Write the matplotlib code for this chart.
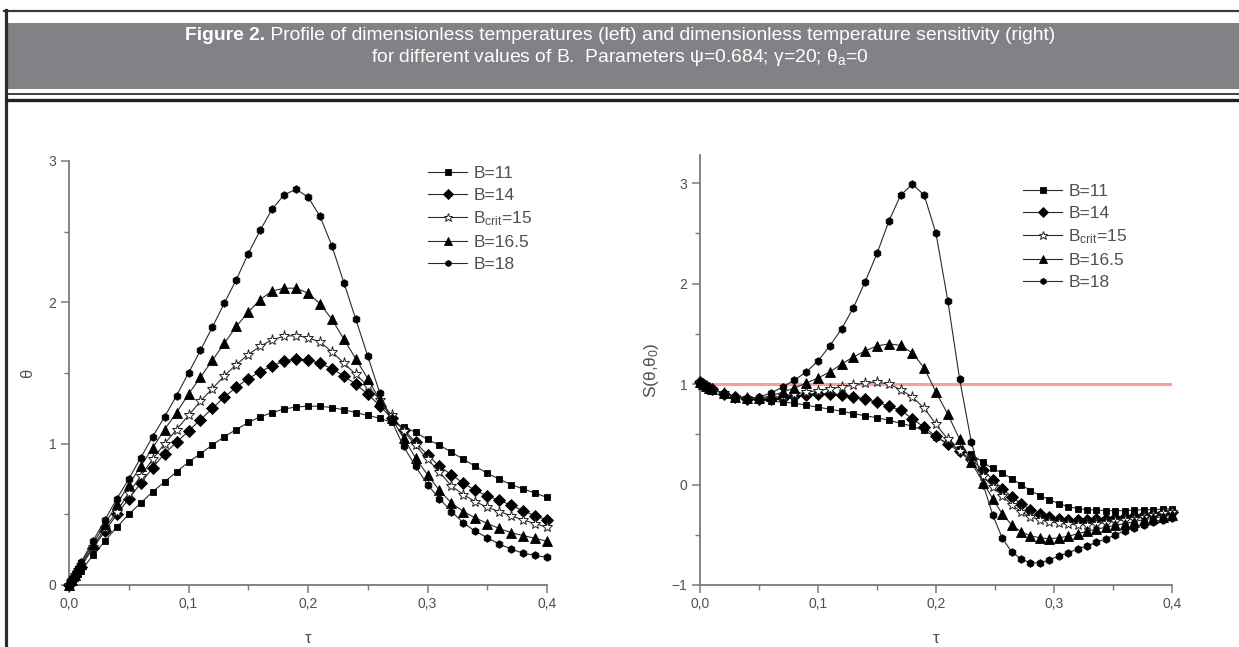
import matplotlib
matplotlib.use("Agg")
import matplotlib.pyplot as plt
from matplotlib.ticker import MultipleLocator, FixedLocator, FixedFormatter
from matplotlib.lines import Line2D
from matplotlib.patches import Rectangle

plt.rcParams['font.family'] = ['Liberation Sans', 'DejaVu Sans']
plt.rcParams['mathtext.fontset'] = 'custom'
plt.rcParams['mathtext.rm'] = 'Liberation Sans'
plt.rcParams['mathtext.it'] = 'Liberation Sans:italic'
plt.rcParams['mathtext.bf'] = 'Liberation Sans:bold'

# ---------------- data ----------------
title_bold = "Figure 2."
title_rest = " Profile of dimensionless temperatures (left) and dimensionless temperature sensitivity (right)"
title_line2 = r"for different values of B.  Parameters ψ=0.684; γ=20; θ$_{\mathregular{a}}$=0"

series_labels = ["B=11", "B=14", r"B$_{\mathregular{crit}}$=15", "B=16.5", "B=18"]

x_ticks = [0.0, 0.1, 0.2, 0.3, 0.4]
x_ticklabels = ["0,0", "0,1", "0,2", "0,3", "0,4"]
left_yticks = [0, 1, 2, 3]
right_yticks = [-1, 0, 1, 2, 3]
ref_level = 1.0

tau_left = [0, 0.0025, 0.005, 0.0075, 0.01, 0.02, 0.03, 0.04, 0.05, 0.06, 0.07, 0.08, 0.09, 0.10,
            0.11, 0.12, 0.13, 0.14, 0.15, 0.16, 0.17, 0.18, 0.19, 0.20, 0.21, 0.22, 0.23, 0.24,
            0.25, 0.26, 0.27, 0.28, 0.29, 0.30, 0.31, 0.32, 0.33, 0.34, 0.35, 0.36, 0.37, 0.38,
            0.39, 0.40]

theta_B11 = [0, 0.026, 0.052, 0.078, 0.10, 0.21, 0.31, 0.41, 0.50, 0.58, 0.66, 0.73, 0.80, 0.87,
             0.93, 0.99, 1.05, 1.10, 1.15, 1.19, 1.22, 1.245, 1.26, 1.265, 1.265, 1.255, 1.24, 1.22,
             1.20, 1.18, 1.15, 1.12, 1.08, 1.03, 0.99, 0.94, 0.89, 0.84, 0.79, 0.75, 0.71, 0.68,
             0.65, 0.62]
theta_B14 = [0, 0.033, 0.066, 0.099, 0.13, 0.26, 0.38, 0.50, 0.61, 0.72, 0.83, 0.93, 1.01, 1.09,
             1.17, 1.25, 1.33, 1.40, 1.46, 1.51, 1.55, 1.585, 1.60, 1.59, 1.57, 1.53, 1.48, 1.42,
             1.35, 1.27, 1.18, 1.10, 1.01, 0.92, 0.84, 0.78, 0.72, 0.67, 0.63, 0.60, 0.565, 0.525,
             0.49, 0.46]
theta_B15 = [0, 0.035, 0.07, 0.105, 0.14, 0.27, 0.40, 0.52, 0.65, 0.77, 0.89, 1.0, 1.1, 1.2,
             1.3, 1.39, 1.48, 1.56, 1.63, 1.69, 1.735, 1.76, 1.765, 1.75, 1.72, 1.65, 1.57, 1.49,
             1.41, 1.31, 1.20, 1.09, 0.99, 0.89, 0.80, 0.70, 0.64, 0.59, 0.55, 0.52, 0.49, 0.46,
             0.435, 0.41]
theta_B165 = [0, 0.037, 0.074, 0.11, 0.15, 0.29, 0.43, 0.57, 0.71, 0.84, 0.97, 1.1, 1.22, 1.35,
              1.47, 1.59, 1.71, 1.83, 1.93, 2.02, 2.08, 2.10, 2.10, 2.065, 1.99, 1.88, 1.74, 1.60,
              1.46, 1.31, 1.18, 1.04, 0.90, 0.78, 0.67, 0.58, 0.52, 0.475, 0.435, 0.40, 0.37, 0.35,
              0.33, 0.31]
theta_B18 = [0, 0.04, 0.08, 0.12, 0.16, 0.31, 0.46, 0.61, 0.75, 0.90, 1.05, 1.19, 1.34, 1.50,
             1.66, 1.825, 1.995, 2.16, 2.345, 2.51, 2.66, 2.76, 2.80, 2.745, 2.61, 2.40, 2.14, 1.88,
             1.62, 1.36, 1.16, 0.98, 0.84, 0.71, 0.61, 0.52, 0.44, 0.38, 0.335, 0.29, 0.255, 0.225,
             0.21, 0.195]

tau_right = [0, 0.0025, 0.005, 0.0075, 0.01, 0.02, 0.03, 0.04, 0.05, 0.06, 0.07, 0.08, 0.09, 0.10,
             0.11, 0.12, 0.13, 0.14, 0.15, 0.16, 0.17, 0.18, 0.19, 0.20, 0.21, 0.22, 0.23, 0.24,
             0.248, 0.256, 0.264, 0.272, 0.28, 0.288, 0.296, 0.304, 0.312, 0.32, 0.328, 0.336,
             0.344, 0.352, 0.36, 0.368, 0.376, 0.384, 0.392, 0.40]

S_B11 = [1.02, 1.0, 0.98, 0.965, 0.95, 0.90, 0.87, 0.85, 0.84, 0.83, 0.82, 0.81, 0.79, 0.77,
         0.75, 0.73, 0.705, 0.685, 0.665, 0.64, 0.61, 0.58, 0.54, 0.47, 0.41, 0.35, 0.30, 0.22,
         0.16, 0.115, 0.06, 0.0, -0.06, -0.11, -0.15, -0.19, -0.22, -0.24, -0.25, -0.255,
         -0.26, -0.26, -0.26, -0.255, -0.25, -0.25, -0.245, -0.24]
S_B14 = [1.02, 1.0, 0.98, 0.965, 0.95, 0.905, 0.87, 0.855, 0.85, 0.855, 0.865, 0.88, 0.895, 0.905,
         0.905, 0.89, 0.872, 0.85, 0.82, 0.78, 0.74, 0.655, 0.57, 0.48, 0.40, 0.33, 0.25, 0.14,
         0.05, -0.04, -0.12, -0.19, -0.25, -0.29, -0.32, -0.34, -0.35, -0.35, -0.35, -0.345,
         -0.34, -0.33, -0.32, -0.315, -0.305, -0.29, -0.28, -0.27]
S_B15 = [1.02, 1.0, 0.98, 0.965, 0.95, 0.91, 0.875, 0.86, 0.855, 0.86, 0.88, 0.90, 0.92, 0.935,
         0.955, 0.97, 0.99, 1.01, 1.02, 1.0, 0.945, 0.87, 0.76, 0.60, 0.45, 0.33, 0.22, 0.08,
         -0.02, -0.11, -0.20, -0.27, -0.32, -0.35, -0.37, -0.385, -0.395, -0.40, -0.40, -0.39,
         -0.38, -0.365, -0.35, -0.34, -0.32, -0.30, -0.285, -0.27]
S_B165 = [1.02, 1.0, 0.98, 0.965, 0.95, 0.91, 0.875, 0.86, 0.86, 0.88, 0.92, 0.96, 1.01, 1.06,
          1.12, 1.20, 1.27, 1.33, 1.38, 1.40, 1.385, 1.31, 1.16, 0.92, 0.70, 0.45, 0.22, 0.02,
          -0.14, -0.29, -0.40, -0.47, -0.51, -0.53, -0.54, -0.53, -0.515, -0.49, -0.465, -0.445,
          -0.425, -0.405, -0.39, -0.37, -0.35, -0.335, -0.32, -0.305]
S_B18 = [1.02, 1.0, 0.98, 0.965, 0.95, 0.91, 0.875, 0.86, 0.87, 0.91, 0.97, 1.04, 1.12, 1.23,
         1.38, 1.55, 1.76, 2.02, 2.30, 2.62, 2.88, 2.99, 2.88, 2.50, 1.83, 1.05, 0.42, 0.0,
         -0.30, -0.53, -0.67, -0.74, -0.78, -0.78, -0.75, -0.71, -0.68, -0.64, -0.61, -0.575,
         -0.54, -0.50, -0.46, -0.43, -0.40, -0.37, -0.35, -0.33]

left_series = [theta_B11, theta_B14, theta_B15, theta_B165, theta_B18]
right_series = [S_B11, S_B14, S_B15, S_B165, S_B18]

# ---------------- styles ----------------
marker_styles = [
    dict(marker='s', ms=5.0, mfc='black', mec='black', mew=0.6),
    dict(marker='D', ms=6.0, mfc='black', mec='black', mew=0.6),
    dict(marker='*', ms=8.0, mfc='white', mec='#222222', mew=0.7),
    dict(marker='^', ms=7.0, mfc='black', mec='black', mew=0.6),
    dict(marker='h', ms=5.5, mfc='black', mec='black', mew=0.6),
]
line_color = '#2a2a2a'
axis_color = '#7a7a7a'
text_color = '#505050'

W, H = 1239, 647
fig = plt.figure(figsize=(W / 100, H / 100), dpi=100)
fig.patch.set_facecolor('white')


def fx(px):
    return px / W


def fy(py):
    return 1 - py / H


# ---------------- frame and header ----------------
fig.add_artist(Rectangle((fx(7), fy(89)), fx(W) - fx(7), fy(23) - fy(89),
                         transform=fig.transFigure, facecolor='#818285', edgecolor='none'))
fig.add_artist(Line2D([fx(4), 1], [fy(10.5), fy(10.5)], transform=fig.transFigure,
                      color='#3a3a3a', lw=1.6))
fig.add_artist(Line2D([fx(5.5), fx(5.5)], [fy(10), 0], transform=fig.transFigure,
                      color='#2a2a2a', lw=2.3))
fig.add_artist(Line2D([fx(7), 1], [fy(94), fy(94)], transform=fig.transFigure,
                      color='#333333', lw=1.3))
fig.add_artist(Line2D([fx(7), 1], [fy(100), fy(100)], transform=fig.transFigure,
                      color='#222222', lw=2.4))

renderer = fig.canvas.get_renderer()
title_fs = 13.9
t1 = fig.text(0, fy(35), title_bold, fontsize=title_fs, weight='bold', color='white',
              va='center', ha='left')
t2 = fig.text(0, fy(35), title_rest, fontsize=title_fs, color='white', va='center', ha='left')
w1 = t1.get_window_extent(renderer).width
w2 = t2.get_window_extent(renderer).width
x0 = 620 - (w1 + w2) / 2
t1.set_x(fx(x0))
t2.set_x(fx(x0 + w1))
fig.text(fx(620), fy(57), title_line2, fontsize=title_fs, color='white', va='center', ha='center')

# ---------------- axes ----------------
axL = fig.add_axes([fx(69), fy(585), fx(547) - fx(69), fy(161) - fy(585)])
axR = fig.add_axes([fx(700), fy(585), fx(1172) - fx(700), fy(155) - fy(585)])


def style_axis(ax, yticks):
    for s in ['top', 'right']:
        ax.spines[s].set_visible(False)
    for s in ['left', 'bottom']:
        ax.spines[s].set_color(axis_color)
        ax.spines[s].set_linewidth(1.3)
    ax.xaxis.set_major_locator(FixedLocator(x_ticks))
    ax.xaxis.set_major_formatter(FixedFormatter(x_ticklabels))
    ax.xaxis.set_minor_locator(MultipleLocator(0.05))
    ax.yaxis.set_major_locator(FixedLocator(yticks))
    ax.yaxis.set_minor_locator(MultipleLocator(0.5))
    ax.tick_params(which='major', direction='out', length=6, width=1.1, color=axis_color,
                   labelsize=10, labelcolor=text_color, pad=3)
    ax.tick_params(which='minor', direction='out', length=3.5, width=1.0, color=axis_color)
    ax.set_facecolor('none')


style_axis(axL, left_yticks)
style_axis(axR, right_yticks)
axL.set_xlim(0, 0.4)
axL.set_ylim(0, 3)
axR.set_xlim(0, 0.4)
axR.set_ylim(-1, 3.28)

axR.axhline(ref_level, color='#f2a0a0', lw=2.2, zorder=1)

handles = []
for vals, st, lab in zip(left_series, marker_styles, series_labels):
    h, = axL.plot(tau_left, vals, color=line_color, lw=0.8, clip_on=False, label=lab, zorder=3, **st)
    handles.append(h)
for vals, st, lab in zip(right_series, marker_styles, series_labels):
    axR.plot(tau_right, vals, color=line_color, lw=0.8, clip_on=False, label=lab, zorder=3, **st)

axL.set_xlabel('τ', fontsize=12, color=text_color, labelpad=14)
axR.set_xlabel('τ', fontsize=12, color=text_color, labelpad=14)
axL.set_ylabel('θ', fontsize=12, color=text_color, labelpad=10)
axR.set_ylabel(r'S(θ,θ$_{\mathregular{0}}$)', fontsize=12.5, color=text_color, labelpad=8)

leg_kw = dict(frameon=False, fontsize=12.5, handlelength=2.25, handletextpad=0.35,
              labelspacing=0.38, borderpad=0, borderaxespad=0, numpoints=1, loc='upper left',
              labelcolor=text_color, markerscale=0.8)
fig.legend(handles, series_labels, bbox_to_anchor=(fx(428), fy(166)), **leg_kw)
fig.legend(handles, series_labels, bbox_to_anchor=(fx(1023), fy(184)), **leg_kw)

fig.savefig('out.png', dpi=100, facecolor='white')
